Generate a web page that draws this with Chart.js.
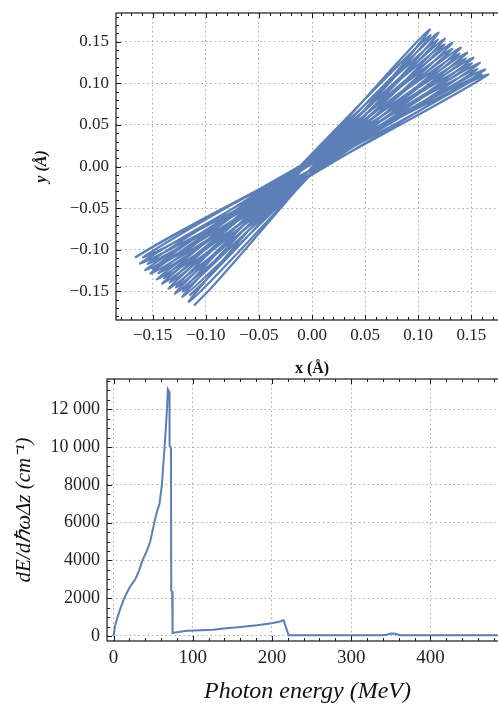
<!DOCTYPE html>
<html>
<head>
<meta charset="utf-8">
<script src="https://cdn.jsdelivr.net/npm/chart.js@4.4.0/dist/chart.umd.min.js"></script>
<style>
  html, body { margin: 0; padding: 0; background: #fff; overflow: hidden; }
  body { width: 498px; height: 704px; position: relative; }
  #top { position: absolute; left: 0; top: 0; }
  #bottom { position: absolute; left: 0; top: 376px; }
</style>
</head>
<body>
<canvas id="top" width="512" height="380"></canvas>
<canvas id="bottom" width="512" height="328"></canvas>
<script>
// trajectory in Angstrom: loop tips plus points along each pass
// (outward sweep of the loops, then the sweep back)
var trajX = [
  -0.111, -0.0917, -0.0533, 0.0577, 0.0947,
   0.111,  0.0913,  0.0520, -0.0615, -0.0993,
  -0.116, -0.0957, -0.0550, 0.0625, 0.1017,
   0.119,  0.0982,  0.0565, -0.0640, -0.1042,
  -0.122, -0.1008, -0.0581, 0.0654, 0.1066,
   0.125,  0.1033,  0.0594, -0.0676, -0.1101,
  -0.129, -0.1068, -0.0617, 0.0688, 0.1124,
   0.132,  0.1093,  0.0632, -0.0703, -0.1149,
  -0.135, -0.1117, -0.0642, 0.0733, 0.1193,
   0.140,  0.1162,  0.0678, -0.0727, -0.1198,
  -0.141, -0.1167, -0.0673, 0.0762, 0.1243,
   0.146,  0.1214,  0.0712, -0.0748, -0.1238,
  -0.146, -0.1210, -0.0697, 0.0793, 0.1294,
   0.152,  0.1265,  0.0742, -0.0778, -0.1289,
  -0.152, -0.1261, -0.0728, 0.0822, 0.1343,
   0.158,  0.1317,  0.0775, -0.0800, -0.1329,
  -0.157, -0.1303, -0.0754, 0.0846, 0.1385,
   0.163,  0.1359,  0.0801, -0.0824, -0.1371,
  -0.162, -0.1348, -0.0785, 0.0855, 0.1408,
   0.166,  0.1384,  0.0815, -0.0845, -0.1404,
  -0.166, -0.1410, -0.0861, 0.0767, 0.1326,
   0.1596, 0.1351,  0.0814, -0.0779, -0.1326,
  -0.1591, -0.1350, -0.0820, 0.0754, 0.1294,
   0.1557, 0.1320,  0.0797, -0.0755, -0.1288,
  -0.1547, -0.1314, -0.0801, 0.0724, 0.1249,
   0.1504, 0.1275,  0.0770, -0.0731, -0.1248,
  -0.1499, -0.1275, -0.0781, 0.0691, 0.1197,
   0.1445, 0.1226,  0.0740, -0.0705, -0.1202,
  -0.1445, -0.1230, -0.0755, 0.0661, 0.1148,
   0.1387, 0.1178,  0.0711, -0.0678, -0.1157,
  -0.1392, -0.1188, -0.0733, 0.0622, 0.1089,
   0.1319, 0.1119,  0.0674, -0.0655, -0.1113,
  -0.1339, -0.1145, -0.0713, 0.0580, 0.1026,
   0.1246, 0.1058,  0.0634, -0.0629, -0.1064,
  -0.1280, -0.1097, -0.0685, 0.0546, 0.0972,
   0.1183, 0.1005,  0.0604, -0.0596, -0.1011,
  -0.1217, -0.1044, -0.0656, 0.0511, 0.0915,
   0.1116, 0.0949,  0.0570, -0.0565, -0.0957,
  -0.1154
];
var trajY = [
  -0.167, -0.1414, -0.0855, 0.0805, 0.1374,
   0.165,  0.1398,  0.0845, -0.0795, -0.1358,
  -0.163, -0.1382, -0.0836, 0.0784, 0.1340,
   0.161,  0.1367,  0.0831, -0.0759, -0.1305,
  -0.157, -0.1332, -0.0809, 0.0746, 0.1280,
   0.154,  0.1305,  0.0789, -0.0746, -0.1273,
  -0.153, -0.1300, -0.0793, 0.0717, 0.1236,
   0.149,  0.1265,  0.0768, -0.0712, -0.1221,
  -0.147, -0.1251, -0.0764, 0.0686, 0.1185,
   0.143,  0.1216,  0.0739, -0.0681, -0.1170,
  -0.141, -0.1201, -0.0734, 0.0656, 0.1135,
   0.137,  0.1165,  0.0707, -0.0658, -0.1129,
  -0.136, -0.1159, -0.0712, 0.0623, 0.1083,
   0.131,  0.1116,  0.0681, -0.0619, -0.1068,
  -0.129, -0.1101, -0.0676, 0.0594, 0.1033,
   0.125,  0.1064,  0.0646, -0.0604, -0.1036,
  -0.125, -0.1071, -0.0667, 0.0543, 0.0961,
   0.117,  0.0998,  0.0607, -0.0563, -0.0968,
  -0.117, -0.1003, -0.0622, 0.0518, 0.0913,
   0.111,  0.0949,  0.0583, -0.0517, -0.0899,
  -0.109, -0.0899, -0.0519, 0.0579, 0.0945,
   0.1106, 0.0915,  0.0533, -0.0568, -0.0935,
  -0.1096, -0.0899, -0.0506, 0.0629, 0.1007,
   0.1174, 0.0971,  0.0565, -0.0609, -0.1001,
  -0.1174, -0.0967, -0.0549, 0.0659, 0.1063,
   0.1242, 0.1030,  0.0602, -0.0635, -0.1048,
  -0.1232, -0.1015, -0.0579, 0.0687, 0.1111,
   0.1300, 0.1080,  0.0634, -0.0659, -0.1091,
  -0.1285, -0.1061, -0.0604, 0.0717, 0.1160,
   0.1358, 0.1129,  0.0664, -0.0687, -0.1140,
  -0.1343, -0.1109, -0.0634, 0.0745, 0.1208,
   0.1416, 0.1179,  0.0694, -0.0713, -0.1184,
  -0.1397, -0.1156, -0.0662, 0.0771, 0.1253,
   0.1470, 0.1224,  0.0721, -0.0742, -0.1233,
  -0.1455, -0.1205, -0.0692, 0.0799, 0.1300,
   0.1528, 0.1274,  0.0753, -0.0763, -0.1272,
  -0.1504, -0.1246, -0.0717, 0.0826, 0.1345,
   0.1581, 0.1319,  0.0782, -0.0785, -0.1312,
  -0.1552
];
var posTicks = [-0.15, -0.10, -0.05, 0, 0.05, 0.10, 0.15];

// spectrum
var energy = [0, 2, 5, 9, 13.5, 20, 27.4, 32, 36.5, 42, 46.3, 51.4, 55, 58, 61, 64.4, 66, 67.4,
  68.5, 70.5, 70.7, 72.5, 72.8, 74, 74.5, 80, 92.7, 110, 126, 139, 160, 181, 200, 210, 214.7,
  221, 240, 300, 340, 345, 350, 356, 361, 400, 450, 500];
var intensity = [0, 550, 1000, 1500, 2000, 2550, 3000, 3450, 4000, 4500, 5000, 6000, 6600, 7000, 8000, 10000, 11000, 12000,
  13050, 12900, 10100, 9900, 2400, 2350, 160, 200, 280, 300, 330, 400, 470, 565, 680, 770, 830,
  40, 35, 35, 35, 70, 130, 120, 40, 35, 35, 35];
var energyTicks = [0, 100, 200, 300, 400];
var intensityTicks = [0, 2000, 4000, 6000, 8000, 10000, 12000];

var blue = '#5b7fb6';
var serif = 'Liberation Serif';

// box around the plot with inward ticks, like Mathematica frames
var framePlugin = {
  id: 'frame',
  afterDraw: function(chart, args, o) {
    var ctx = chart.ctx, a = chart.chartArea;
    var xs = chart.scales.x, ys = chart.scales.y;
    ctx.save();
    ctx.strokeStyle = '#1a1a1a';
    ctx.lineWidth = 1.2;
    ctx.strokeRect(a.left, a.top, a.right - a.left, a.bottom - a.top);
    ctx.lineWidth = 1;
    ctx.beginPath();
    var k, v, p, len;
    for (k = Math.ceil(xs.min / o.xMinor); k * o.xMinor <= xs.max; k++) {
      v = k * o.xMinor;
      len = Math.abs(v / o.xMajor - Math.round(v / o.xMajor)) < 1e-6 ? 5 : 3;
      p = Math.round(xs.getPixelForValue(v)) + 0.5;
      ctx.moveTo(p, a.bottom); ctx.lineTo(p, a.bottom - len);
      ctx.moveTo(p, a.top); ctx.lineTo(p, a.top + len);
    }
    for (k = Math.ceil(ys.min / o.yMinor); k * o.yMinor <= ys.max; k++) {
      v = k * o.yMinor;
      len = Math.abs(v / o.yMajor - Math.round(v / o.yMajor)) < 1e-6 ? 5 : 3;
      p = Math.round(ys.getPixelForValue(v)) + 0.5;
      ctx.moveTo(a.left, p); ctx.lineTo(a.left + len, p);
      ctx.moveTo(a.right, p); ctx.lineTo(a.right - len, p);
    }
    ctx.stroke();
    ctx.restore();
  }
};

function fmt2(v) {
  return Math.abs(v) < 1e-9 ? '0.00' : v.toFixed(2).replace('-', '\u2212');
}
function fmtBig(v) {
  return v >= 10000 ? String(Math.floor(v / 1000)) + ' 000' : String(v);
}
// fixed axis sizes, no extra room for half labels
function fixW(w) { return function(s) { s.width = w; s.paddingTop = 0; s.paddingBottom = 0; }; }
function fixH(h) { return function(s) { s.height = h; s.paddingLeft = 0; s.paddingRight = 0; }; }

var trajPts = trajX.map(function(x, i) { return {x: x, y: trajY[i]}; });
var specPts = energy.map(function(e, i) { return {x: e, y: intensity[i]}; });

new Chart(document.getElementById('top'), {
  type: 'scatter',
  data: { datasets: [{
    data: trajPts, showLine: true, borderColor: blue, borderWidth: 2.2,
    pointRadius: 0, tension: 0.4, fill: false
  }]},
  options: {
    responsive: false, animation: false,
    layout: { padding: { top: 13, right: 4, left: 0, bottom: 0 } },
    plugins: { legend: { display: false }, tooltip: { enabled: false },
      frame: { xMinor: 0.01, xMajor: 0.05, yMinor: 0.01, yMajor: 0.05 } },
    scales: {
      x: {
        type: 'linear', min: -0.1845, max: 0.1845,
        afterBuildTicks: function(s) { s.ticks = posTicks.map(function(v) { return {value: v}; }); },
        afterFit: fixH(60),
        grid: { color: '#a8a8a8', drawTicks: false },
        border: { display: false, dash: [1.5, 3] },
        ticks: { padding: 5, color: '#222', autoSkip: false, maxRotation: 0,
          font: { family: serif, size: 17 }, callback: fmt2 },
        title: { display: true, text: 'x (Å)', color: '#111',
          font: { family: serif, size: 16, weight: 'bold', lineHeight: 1.2 }, padding: { top: 0, bottom: 2 } }
      },
      y: {
        type: 'linear', min: -0.1845, max: 0.1845,
        afterBuildTicks: function(s) { s.ticks = posTicks.map(function(v) { return {value: v}; }); },
        afterFit: fixW(116),
        grid: { color: '#a8a8a8', drawTicks: false },
        border: { display: false, dash: [1.5, 3] },
        ticks: { padding: 7, color: '#222', autoSkip: false,
          font: { family: serif, size: 17 }, callback: fmt2 },
        title: { display: true, text: 'y (Å)', color: '#111',
          font: { family: serif, size: 16, weight: 'bold', style: 'italic', lineHeight: 1.2 }, padding: { top: 32, bottom: 0 } }
      }
    }
  },
  plugins: [framePlugin]
});

new Chart(document.getElementById('bottom'), {
  type: 'scatter',
  data: { datasets: [{
    data: specPts, showLine: true, borderColor: blue, borderWidth: 2,
    pointRadius: 0, tension: 0, fill: false
  }]},
  options: {
    responsive: false, animation: false,
    layout: { padding: { top: 3, right: 4, left: 0, bottom: 0 } },
    plugins: { legend: { display: false }, tooltip: { enabled: false },
      frame: { xMinor: 20, xMajor: 100, yMinor: 500, yMajor: 2000 } },
    scales: {
      x: {
        type: 'linear', min: -8.3, max: 498,
        afterBuildTicks: function(s) { s.ticks = energyTicks.map(function(v) { return {value: v}; }); },
        afterFit: fixH(63),
        grid: { color: '#a8a8a8', drawTicks: false },
        border: { display: false, dash: [1.5, 3] },
        ticks: { padding: 6, color: '#222', autoSkip: false, maxRotation: 0,
          font: { family: serif, size: 19 } },
        title: { display: true, text: 'Photon energy (MeV)', color: '#111',
          font: { family: serif, size: 24, style: 'italic', lineHeight: 1 }, padding: { top: 0, bottom: 0 } }
      },
      y: {
        type: 'linear', min: -265, max: 13600,
        afterBuildTicks: function(s) { s.ticks = intensityTicks.map(function(v) { return {value: v}; }); },
        afterFit: fixW(107),
        grid: { color: '#a8a8a8', drawTicks: false },
        border: { display: false, dash: [1.5, 3] },
        ticks: { padding: 7, color: '#222', autoSkip: false,
          font: { family: serif, size: 18 }, callback: fmtBig },
        title: { display: true, text: 'dE/dℏωΔz (cm⁻¹)', color: '#111',
          font: { family: serif, size: 21, style: 'italic', lineHeight: 1 }, padding: { top: 14, bottom: 0 } }
      }
    }
  },
  plugins: [framePlugin]
});
</script>
</body>
</html>
